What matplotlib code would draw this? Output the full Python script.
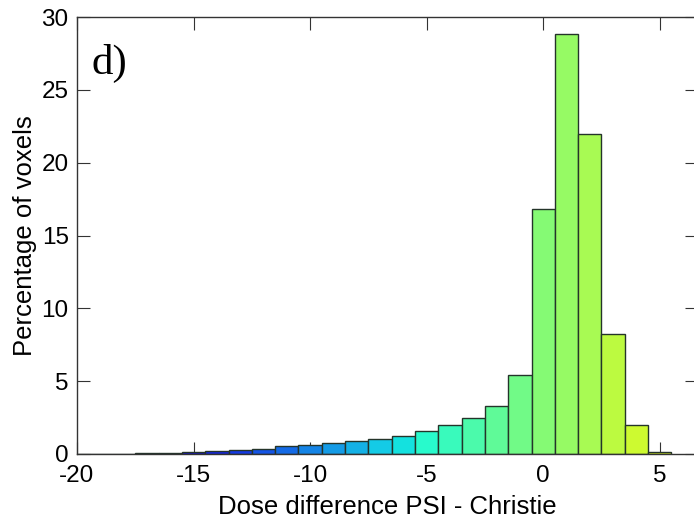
import matplotlib
matplotlib.use("Agg")
import matplotlib.pyplot as plt
import numpy as np
from matplotlib import colors

centers = [-20, -19, -18, -17, -16, -15, -14, -13, -12, -11, -10, -9, -8, -7, -6,
           -5, -4, -3, -2, -1, 0, 1, 2, 3, 4, 5]
percent = [0.01, 0.02, 0.03, 0.07, 0.10, 0.15, 0.20, 0.30, 0.36, 0.56, 0.65, 0.74, 0.90,
           1.05, 1.25, 1.55, 2.0, 2.45, 3.3, 5.45, 16.8, 28.8, 22.0, 8.25, 2.0, 0.15]
xticks = [-20, -15, -10, -5, 0, 5]
yticks = [0, 5, 10, 15, 20, 25, 30]

plt.rcParams['font.family'] = ['Liberation Sans', 'DejaVu Sans']
plt.rcParams['axes.unicode_minus'] = False

fig = plt.figure(figsize=(6.94, 5.23), dpi=100)
W, H = 694, 523
left, right, bottom, top = 77, 697, 454, 17
ax = fig.add_axes([left / W, 1 - bottom / H, (right - left) / W, (bottom - top) / H])

norm = colors.Normalize(vmin=-20, vmax=20)
cmap = plt.get_cmap('jet')
bar_colors = []
for c in centers:
    r, g, b, a = cmap(norm(c))
    # slightly muted like the scanned original
    bar_colors.append((0.08 + 0.9 * r, 0.05 + 0.93 * g, 0.05 + 0.85 * b))
ax.bar(centers, percent, width=1.0, color=bar_colors,
       edgecolor='#24342a', linewidth=1.0, zorder=2)

ax.set_xlim(-20, 6.6)
ax.set_ylim(0, 30)
ax.set_xticks(xticks)
ax.set_yticks(yticks)
ax.tick_params(direction='in', length=9, width=0.8, labelsize=17.5, top=True, right=True,
               color='#333333')
ax.tick_params(axis='x', pad=8)
ax.tick_params(axis='y', pad=6)
for s in ax.spines.values():
    s.set_linewidth(1.0)
    s.set_color('#333333')
    s.set_zorder(3)

ax.set_xlabel('Dose difference PSI - Christie', fontsize=18.5, labelpad=6)
ax.set_ylabel('Percentage of voxels', fontsize=18.5, labelpad=3)
ax.text(0.024, 0.87, 'd)', transform=ax.transAxes, fontsize=31,
        family=['Liberation Serif', 'DejaVu Serif'], va='baseline', ha='left')

fig.savefig('out.png', dpi=100)
